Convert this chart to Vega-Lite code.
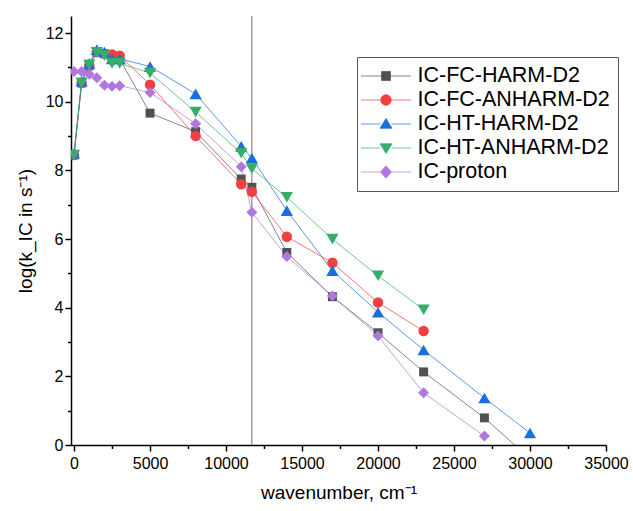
{
  "$schema": "https://vega.github.io/schema/vega-lite/v6.json",
  "width": 535,
  "height": 429,
  "autosize": {"type": "none"},
  "padding": {"left": 71, "top": 16, "right": 27, "bottom": 66},
  "background": "white",
  "config": {
    "view": {"stroke": null},
    "font": "Liberation Sans",
    "axis": {
      "domainColor": "black", "domainWidth": 1.5, "tickColor": "black", "tickWidth": 1.5,
      "labelFont": "Liberation Sans", "labelFontSize": 16, "labelColor": "black",
      "titleFont": "Liberation Sans", "titleFontSize": 19, "titleFontWeight": "normal", "titleColor": "black",
      "grid": false, "labelOverlap": false, "labelFlush": false
    },
    "legend": {
      "labelFont": "Liberation Sans", "labelFontSize": 21.5, "labelColor": "black", "labelLimit": 300
    }
  },
  "datasets": {
    "vline": [{"w": 11700}],
    "series": [
      {"s": "IC-FC-HARM-D2", "x": 0, "y": 8.45},
      {"s": "IC-FC-HARM-D2", "x": 500, "y": 10.55},
      {"s": "IC-FC-HARM-D2", "x": 1000, "y": 11.05},
      {"s": "IC-FC-HARM-D2", "x": 1500, "y": 11.45},
      {"s": "IC-FC-HARM-D2", "x": 2000, "y": 11.4},
      {"s": "IC-FC-HARM-D2", "x": 2500, "y": 11.3},
      {"s": "IC-FC-HARM-D2", "x": 3000, "y": 11.25},
      {"s": "IC-FC-HARM-D2", "x": 5000, "y": 9.67},
      {"s": "IC-FC-HARM-D2", "x": 8000, "y": 9.13},
      {"s": "IC-FC-HARM-D2", "x": 11000, "y": 7.75},
      {"s": "IC-FC-HARM-D2", "x": 11700, "y": 7.51},
      {"s": "IC-FC-HARM-D2", "x": 14000, "y": 5.61},
      {"s": "IC-FC-HARM-D2", "x": 17000, "y": 4.32},
      {"s": "IC-FC-HARM-D2", "x": 20000, "y": 3.27},
      {"s": "IC-FC-HARM-D2", "x": 23000, "y": 2.13},
      {"s": "IC-FC-HARM-D2", "x": 27000, "y": 0.79},
      {"s": "IC-FC-HARM-D2", "x": 30000, "y": -0.4},
      {"s": "IC-FC-ANHARM-D2", "x": 0, "y": 8.45},
      {"s": "IC-FC-ANHARM-D2", "x": 500, "y": 10.55},
      {"s": "IC-FC-ANHARM-D2", "x": 1000, "y": 11.05},
      {"s": "IC-FC-ANHARM-D2", "x": 1500, "y": 11.45},
      {"s": "IC-FC-ANHARM-D2", "x": 2000, "y": 11.4},
      {"s": "IC-FC-ANHARM-D2", "x": 2500, "y": 11.38},
      {"s": "IC-FC-ANHARM-D2", "x": 3000, "y": 11.34},
      {"s": "IC-FC-ANHARM-D2", "x": 5000, "y": 10.5},
      {"s": "IC-FC-ANHARM-D2", "x": 8000, "y": 9.0},
      {"s": "IC-FC-ANHARM-D2", "x": 11000, "y": 7.6},
      {"s": "IC-FC-ANHARM-D2", "x": 11700, "y": 7.38},
      {"s": "IC-FC-ANHARM-D2", "x": 14000, "y": 6.07},
      {"s": "IC-FC-ANHARM-D2", "x": 17000, "y": 5.31},
      {"s": "IC-FC-ANHARM-D2", "x": 20000, "y": 4.15},
      {"s": "IC-FC-ANHARM-D2", "x": 23000, "y": 3.32},
      {"s": "IC-HT-HARM-D2", "x": 0, "y": 8.5},
      {"s": "IC-HT-HARM-D2", "x": 500, "y": 10.6},
      {"s": "IC-HT-HARM-D2", "x": 1000, "y": 11.12},
      {"s": "IC-HT-HARM-D2", "x": 1500, "y": 11.52},
      {"s": "IC-HT-HARM-D2", "x": 2000, "y": 11.45},
      {"s": "IC-HT-HARM-D2", "x": 2500, "y": 11.25},
      {"s": "IC-HT-HARM-D2", "x": 3000, "y": 11.25},
      {"s": "IC-HT-HARM-D2", "x": 5000, "y": 11.03},
      {"s": "IC-HT-HARM-D2", "x": 8000, "y": 10.23},
      {"s": "IC-HT-HARM-D2", "x": 11000, "y": 8.7},
      {"s": "IC-HT-HARM-D2", "x": 11700, "y": 8.36},
      {"s": "IC-HT-HARM-D2", "x": 14000, "y": 6.83},
      {"s": "IC-HT-HARM-D2", "x": 17000, "y": 5.08},
      {"s": "IC-HT-HARM-D2", "x": 20000, "y": 3.87},
      {"s": "IC-HT-HARM-D2", "x": 23000, "y": 2.77},
      {"s": "IC-HT-HARM-D2", "x": 27000, "y": 1.37},
      {"s": "IC-HT-HARM-D2", "x": 30000, "y": 0.35},
      {"s": "IC-HT-ANHARM-D2", "x": 0, "y": 8.45},
      {"s": "IC-HT-ANHARM-D2", "x": 500, "y": 10.55},
      {"s": "IC-HT-ANHARM-D2", "x": 1000, "y": 11.08},
      {"s": "IC-HT-ANHARM-D2", "x": 1500, "y": 11.44},
      {"s": "IC-HT-ANHARM-D2", "x": 2000, "y": 11.35},
      {"s": "IC-HT-ANHARM-D2", "x": 2500, "y": 11.12},
      {"s": "IC-HT-ANHARM-D2", "x": 3000, "y": 11.12},
      {"s": "IC-HT-ANHARM-D2", "x": 5000, "y": 10.84},
      {"s": "IC-HT-ANHARM-D2", "x": 8000, "y": 9.7},
      {"s": "IC-HT-ANHARM-D2", "x": 11000, "y": 8.5},
      {"s": "IC-HT-ANHARM-D2", "x": 11700, "y": 8.05},
      {"s": "IC-HT-ANHARM-D2", "x": 14000, "y": 7.22},
      {"s": "IC-HT-ANHARM-D2", "x": 17000, "y": 6.0},
      {"s": "IC-HT-ANHARM-D2", "x": 20000, "y": 4.93},
      {"s": "IC-HT-ANHARM-D2", "x": 23000, "y": 3.94},
      {"s": "IC-proton", "x": 0, "y": 10.88},
      {"s": "IC-proton", "x": 500, "y": 10.88},
      {"s": "IC-proton", "x": 1000, "y": 10.8},
      {"s": "IC-proton", "x": 1500, "y": 10.7},
      {"s": "IC-proton", "x": 2000, "y": 10.48},
      {"s": "IC-proton", "x": 2500, "y": 10.45},
      {"s": "IC-proton", "x": 3000, "y": 10.47},
      {"s": "IC-proton", "x": 5000, "y": 10.27},
      {"s": "IC-proton", "x": 8000, "y": 9.36},
      {"s": "IC-proton", "x": 11000, "y": 8.11},
      {"s": "IC-proton", "x": 11700, "y": 6.78},
      {"s": "IC-proton", "x": 14000, "y": 5.49},
      {"s": "IC-proton", "x": 17000, "y": 4.34},
      {"s": "IC-proton", "x": 20000, "y": 3.18},
      {"s": "IC-proton", "x": 23000, "y": 1.52},
      {"s": "IC-proton", "x": 27000, "y": 0.26}
    ]
  },
  "encoding": {
    "x": {
      "field": "x", "type": "quantitative",
      "scale": {"domain": [-200, 35000], "nice": false, "zero": false},
      "axis": {
        "title": "wavenumber, cm⁻¹",
        "values": [0, 2500, 5000, 7500, 10000, 12500, 15000, 17500, 20000, 22500, 25000, 27500, 30000, 32500, 35000],
        "format": "d",
        "labelExpr": "datum.value % 5000 ? '' : datum.label",
        "tickSize": {"condition": {"test": "datum.value % 5000 !== 0", "value": 3.5}, "value": 6},
        "labelPadding": 4,
        "titlePadding": 12
      }
    },
    "y": {
      "field": "y", "type": "quantitative",
      "scale": {"domain": [0, 12.5], "nice": false},
      "axis": {
        "title": "log(k_IC in s⁻¹)",
        "values": [0, 1, 2, 3, 4, 5, 6, 7, 8, 9, 10, 11, 12],
        "labelExpr": "datum.value % 2 ? '' : datum.label",
        "tickSize": {"condition": {"test": "datum.value % 2 !== 0", "value": 3.5}, "value": 6},
        "labelPadding": 2,
        "titlePadding": 10
      }
    }
  },
  "layer": [
    {
      "data": {"name": "vline"},
      "mark": {"type": "rule", "color": "#707070", "strokeWidth": 1},
      "encoding": {
        "x": {"field": "w", "type": "quantitative"},
        "y": null
      }
    },
    {
      "data": {"name": "series"},
      "mark": {"type": "line", "strokeWidth": 1, "opacity": 0.7, "clip": true},
      "encoding": {
        "color": {
          "field": "s", "type": "nominal",
          "scale": {
            "domain": ["IC-FC-HARM-D2", "IC-FC-ANHARM-D2", "IC-HT-HARM-D2", "IC-HT-ANHARM-D2", "IC-proton"],
            "range": ["#515151", "#F14040", "#1A6FDF", "#37AD6B", "#B177DE"]
          },
          "legend": {
            "title": null,
            "orient": "none",
            "legendX": 286,
            "legendY": 41,
            "padding": 8,
            "rowPadding": 2,
            "strokeColor": "#555555",
            "fillColor": "white",
            "cornerRadius": 0,
            "symbolSize": 100,
            "symbolOffset": -4.5,
            "labelOffset": 6,
            "encoding": {
              "symbols": {
                "shape": {"value": {"expr": "datum.value === 'IC-FC-HARM-D2' ? 'M-1,0H-0.2M0.2,0H1M-0.18,-0.18H0.18V0.18H-0.18Z' : datum.value === 'IC-FC-ANHARM-D2' ? 'M-1,0H-0.2M0.2,0H1M-0.21,0A0.21,0.21 0 1,0 0.21,0A0.21,0.21 0 1,0 -0.21,0Z' : datum.value === 'IC-HT-HARM-D2' ? 'M-1,0H-0.22M0.22,0H1M0,-0.22L0.24,0.17H-0.24Z' : datum.value === 'IC-HT-ANHARM-D2' ? 'M-1,0H-0.22M0.22,0H1M0,0.22L0.24,-0.17H-0.24Z' : 'M-1,0H-0.22M0.22,0H1M0,-0.25L0.22,0L0,0.25L-0.22,0Z'"}},
                "size": {"value": 2500},
                "y": {"value": 11},
                "fill": {"value": {"expr": "scale('color', datum.value)"}},
                "stroke": {"value": {"expr": "scale('color', datum.value)"}},
                "strokeWidth": {"value": 1},
                "strokeOpacity": {"value": 0.7},
                "fillOpacity": {"value": 1},
                "opacity": {"value": 1}
              },
              "labels": {
                "y": {"value": 11}
              }
            }
          }
        }
      }
    },
    {
      "data": {"name": "series"},
      "transform": [{"filter": "datum.s === 'IC-FC-HARM-D2'"}],
      "mark": {"type": "point", "shape": "square", "filled": true, "opacity": 1, "size": 80, "color": "#515151", "clip": true}
    },
    {
      "data": {"name": "series"},
      "transform": [{"filter": "datum.s === 'IC-FC-ANHARM-D2'"}],
      "mark": {"type": "point", "shape": "circle", "filled": true, "opacity": 1, "size": 110, "color": "#F14040", "clip": true}
    },
    {
      "data": {"name": "series"},
      "transform": [{"filter": "datum.s === 'IC-HT-HARM-D2'"}],
      "mark": {"type": "point", "shape": "triangle-up", "filled": true, "opacity": 1, "size": 150, "color": "#1A6FDF", "clip": true}
    },
    {
      "data": {"name": "series"},
      "transform": [{"filter": "datum.s === 'IC-HT-ANHARM-D2'"}],
      "mark": {"type": "point", "shape": "triangle-down", "filled": true, "opacity": 1, "size": 150, "color": "#37AD6B", "clip": true}
    },
    {
      "data": {"name": "series"},
      "transform": [{"filter": "datum.s === 'IC-proton'"}],
      "mark": {"type": "point", "shape": "diamond", "filled": true, "opacity": 1, "size": 120, "color": "#B177DE", "clip": true}
    }
  ]
}
